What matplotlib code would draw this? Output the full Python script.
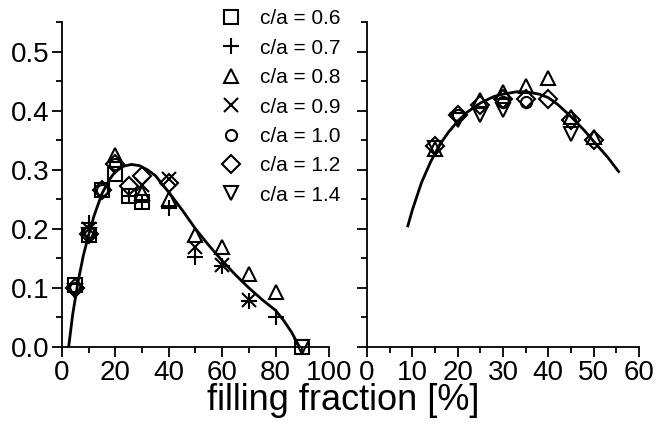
import numpy as np
import matplotlib
matplotlib.use("Agg")
import matplotlib.pyplot as plt
from matplotlib.ticker import MultipleLocator

plt.rcParams['font.family'] = ['Liberation Sans', 'DejaVu Sans']

# left panel: measured points per c/a
labels = ['c/a = 0.6', 'c/a = 0.7', 'c/a = 0.8', 'c/a = 0.9', 'c/a = 1.0', 'c/a = 1.2', 'c/a = 1.4']
markers = ['s', '+', '^', 'x', 'o', 'D', 'v']
sizes = [10, 12, 10, 10, 8, 9, 10]

left_x = [
    [5, 10, 15, 20, 25, 30, 90],
    [10, 25, 30, 40, 50, 60, 70, 80],
    [20, 30, 40, 50, 60, 70, 80],
    [10, 30, 40, 50, 60, 70],
    [5, 10, 15, 20],
    [5, 10, 15, 20, 25, 30, 40],
    [5, 10, 90],
]
left_y = [
    [0.105, 0.19, 0.265, 0.293, 0.255, 0.245, 0.0],
    [0.21, 0.255, 0.245, 0.235, 0.152, 0.137, 0.078, 0.05],
    [0.325, 0.26, 0.25, 0.19, 0.17, 0.123, 0.093],
    [0.2, 0.275, 0.285, 0.17, 0.138, 0.08],
    [0.1, 0.195, 0.265, 0.31],
    [0.1, 0.192, 0.265, 0.31, 0.273, 0.29, 0.278],
    [0.095, 0.19, 0.0],
]
left_fit_x = [2.5, 4, 6, 8, 10, 12, 15, 18, 20, 23, 26, 29, 32, 35, 38, 40, 45,
              50, 55, 60, 65, 70, 75, 80, 83, 86, 88, 89]
left_fit_y = [0.0, 0.055, 0.11, 0.155, 0.19, 0.222, 0.26, 0.285, 0.297, 0.306, 0.309,
              0.307, 0.3, 0.29, 0.273, 0.262, 0.232, 0.2, 0.172, 0.146, 0.122, 0.1,
              0.08, 0.062, 0.045, 0.025, 0.008, 0.0]

# right panel
right_x = [
    [], [],
    [15, 25, 30, 35, 40, 45, 50],
    [],
    [20, 30, 35],
    [15, 20, 25, 30, 35, 40, 45, 50],
    [15, 20, 25, 30, 45],
]
right_y = [
    [], [],
    [0.335, 0.418, 0.432, 0.442, 0.455, 0.39, 0.355],
    [],
    [0.392, 0.415, 0.415],
    [0.34, 0.392, 0.41, 0.42, 0.42, 0.42, 0.385, 0.35],
    [0.337, 0.385, 0.392, 0.402, 0.36],
]
right_fit_x = [9, 10, 12, 14, 16, 18, 20, 22, 25, 28, 30, 33, 35, 38, 40, 42, 45,
               48, 50, 53, 55.5]
right_fit_y = [0.205, 0.232, 0.278, 0.313, 0.342, 0.364, 0.382, 0.397, 0.413, 0.424,
               0.428, 0.432, 0.432, 0.428, 0.422, 0.411, 0.39, 0.366, 0.348, 0.322, 0.297]

fig = plt.figure(figsize=(6.56, 4.22), dpi=100)
ax1 = fig.add_axes([0.0945, 0.1777, 0.407, 0.770])
ax2 = fig.add_axes([0.5595, 0.1777, 0.4146, 0.770])

for ax in (ax1, ax2):
    for s in ('top', 'right'):
        ax.spines[s].set_visible(False)
    for s in ('left', 'bottom'):
        ax.spines[s].set_linewidth(1.3)
    ax.set_ylim(0, 0.55)
    ax.yaxis.set_major_locator(MultipleLocator(0.1))
    ax.yaxis.set_minor_locator(MultipleLocator(0.05))
    ax.tick_params(which='major', direction='out', length=7, width=1.3, labelsize=20, pad=2)
    ax.tick_params(which='minor', direction='out', length=4, width=1.3)

handles = []
for i in range(len(labels)):
    h, = ax1.plot(left_x[i], left_y[i], linestyle='none', marker=markers[i], markersize=sizes[i],
                  markerfacecolor='none', markeredgecolor='black', markeredgewidth=1.5,
                  color='black', label=labels[i], clip_on=False, zorder=3)
    handles.append(h)
    if right_x[i]:
        ax2.plot(right_x[i], right_y[i], linestyle='none', marker=markers[i], markersize=sizes[i],
                 markerfacecolor='none', markeredgecolor='black', markeredgewidth=1.5, zorder=3)

ax1.plot(left_fit_x, left_fit_y, color='black', lw=2)
ax2.plot(right_fit_x, right_fit_y, color='black', lw=2)

ax1.set_xlim(0, 100)
ax1.xaxis.set_major_locator(MultipleLocator(20))
ax1.xaxis.set_minor_locator(MultipleLocator(10))
ax1.set_yticks([0, 0.1, 0.2, 0.3, 0.4, 0.5])
ax1.set_yticklabels(['0.0', '0.1', '0.2', '0.3', '0.4', '0.5'])

ax2.set_xlim(0, 60)
ax2.xaxis.set_major_locator(MultipleLocator(10))
ax2.xaxis.set_minor_locator(MultipleLocator(5))
ax2.set_yticklabels([])

ax1.legend(handles=handles, loc='upper left', bbox_to_anchor=(0.555, 1.065), frameon=False,
           fontsize=15, labelspacing=0.5, handletextpad=0.8, handlelength=1.2, borderaxespad=0)

fig.text(0.524, 0.028, 'filling fraction [%]', ha='center', va='baseline', fontsize=26)

fig.savefig('out.png', dpi=100)
